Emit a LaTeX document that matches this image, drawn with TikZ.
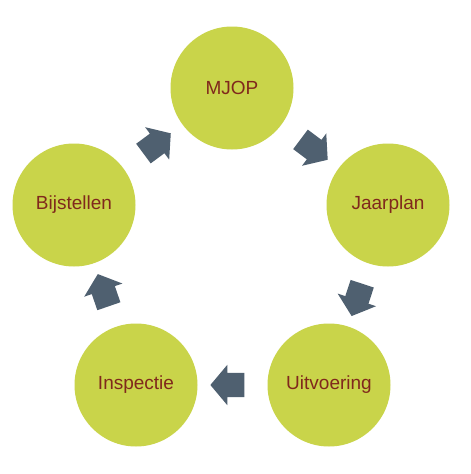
\documentclass[tikz,border=0pt]{standalone}
\usepackage{fontspec}
\setmainfont{Liberation Sans}
\usetikzlibrary{shapes.arrows}
\definecolor{circfill}{RGB}{201,212,74}
\definecolor{txtcol}{RGB}{128,40,28}
\definecolor{arrcol}{RGB}{79,96,112}
\begin{document}
\begin{tikzpicture}[x=1pt,y=-1pt,
  stage/.style={circle,fill=circfill,draw=none,minimum size=123pt,inner sep=0pt,
    text=txtcol,font=\fontsize{19}{21}\selectfont},
  blockarrow/.style={single arrow,fill=arrcol,draw=none,inner xsep=3pt,inner ysep=12pt,
    single arrow head extend=8pt,single arrow tip angle=100,minimum height=34pt,
    sloped,allow upside down}]
\useasboundingbox[fill=white] (0,0) rectangle (471,474);
\node[stage] (mjop) at (232,88) {MJOP};
\node[stage] (jaar) at (388,205) {Jaarplan};
\node[stage] (uitv) at (329,385) {Uitvoering};
\node[stage] (insp) at (136,385) {Inspectie};
\node[stage] (bijs) at (74,205) {Bijstellen};
\path (mjop.center) -- (jaar.center) node[blockarrow,pos=0.5] (a1) {};
\path (jaar.center) -- (uitv.center) node[blockarrow,pos=0.5] (a2) {};
\path (uitv.center) -- (insp.center) node[blockarrow,pos=0.5] (a3) {};
\path (insp.center) -- (bijs.center) node[blockarrow,pos=0.5] (a4) {};
\path (bijs.center) -- (mjop.center) node[blockarrow,pos=0.5] (a5) {};
\end{tikzpicture}
\end{document}
